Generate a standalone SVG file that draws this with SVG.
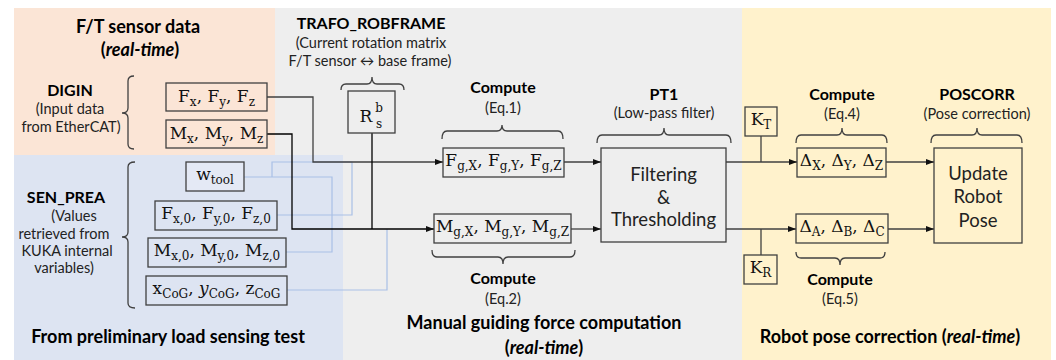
<svg xmlns="http://www.w3.org/2000/svg" width="1056" height="360" viewBox="0 0 1056 360">
<defs>
<style>
.h{font-family:Lato,"Liberation Sans",sans-serif;font-weight:bold;font-size:18px;fill:#000;text-anchor:middle}
.lb{font-family:Lato,"Liberation Sans",sans-serif;font-weight:bold;font-size:16px;fill:#000;text-anchor:middle}
.sm{font-family:Lato,"Liberation Sans",sans-serif;font-size:14.5px;fill:#222;text-anchor:middle}
.big{font-family:Lato,"Liberation Sans",sans-serif;font-size:18.5px;fill:#222;text-anchor:middle}
.m{font-family:"DejaVu Serif","Liberation Serif",serif;font-size:17px;fill:#111;text-anchor:middle}
.s{font-size:12px}
.box{stroke:#404040;stroke-width:1.3}
.ln{fill:none;stroke:#404040;stroke-width:1.3}
.lk{fill:none;stroke:#000;stroke-width:1.3}
.lbl{fill:none;stroke:#A9C0E6;stroke-width:1.2}
.br{fill:none;stroke:#404040;stroke-width:1.3}
</style>
<marker id="ah" viewBox="0 0 8 8" refX="8" refY="4" markerWidth="8" markerHeight="8" markerUnits="userSpaceOnUse" orient="auto"><path d="M0,1 L8,4 L0,7 z" fill="#111"/></marker>
</defs>

<g id="backgrounds">
<rect x="275" y="8" width="467" height="352" fill="#EEEEEE"/>
<rect x="14" y="8" width="261" height="147" fill="#FBE5D6"/>
<rect x="14" y="155" width="329" height="205" fill="#DDE4F2"/>
<rect x="742" y="8" width="309" height="352" fill="#FFF2CC"/>
</g>

<g id="section-labels">
<text class="h" x="138" y="33">F/T sensor data</text>
<text class="h" x="140" y="56">(<tspan font-style="italic">real-time</tspan>)</text>
<text class="lb" x="70" y="96">DIGIN</text>
<text class="sm" x="70" y="114">(Input data</text>
<text class="sm" x="71" y="132">from EtherCAT)</text>
<text class="lb" x="66" y="203">SEN_PREA</text>
<text class="sm" x="74" y="221">(Values</text>
<text class="sm" x="64" y="239">retrieved from</text>
<text class="sm" x="67" y="256">KUKA internal</text>
<text class="sm" x="64" y="273">variables)</text>
<text class="h" x="168" y="343">From preliminary load sensing test</text>
<text class="lb" x="371" y="29">TRAFO_ROBFRAME</text>
<text class="sm" x="371" y="48">(Current rotation matrix</text>
<text class="sm" x="370" y="66">F/T sensor ↔ base frame)</text>
<text class="lb" x="503" y="93">Compute</text>
<text class="sm" x="503" y="113">(Eq.1)</text>
<text class="lb" x="503" y="284">Compute</text>
<text class="sm" x="503" y="304">(Eq.2)</text>
<text class="h" x="544" y="329">Manual guiding force computation</text>
<text class="h" x="544" y="354">(<tspan font-style="italic">real-time</tspan>)</text>
<text class="lb" x="664" y="100">PT1</text>
<text class="sm" x="664" y="118">(Low-pass filter)</text>
<text class="lb" x="842" y="100">Compute</text>
<text class="sm" x="842" y="119">(Eq.4)</text>
<text class="lb" x="840" y="285">Compute</text>
<text class="sm" x="840" y="304">(Eq.5)</text>
<text class="lb" x="977" y="100">POSCORR</text>
<text class="sm" x="977" y="119">(Pose correction)</text>
<text class="h" x="890" y="343">Robot pose correction (<tspan font-style="italic">real-time</tspan>)</text>
</g>

<g id="braces">
<path class="br" d="M134,76 Q128,76 128,81 V108 Q128,113 122,113 Q128,113 128,118 V144 Q128,149 134,149"/>
<path class="br" d="M135,162 Q128,162 128,167 V232 Q128,237 122,237 Q128,237 128,242 V303 Q128,308 135,308"/>
<path class="br" d="M341,90 Q341,84 346,84 H367 Q372,84 372,77 Q372,84 377,84 H399 Q404,84 404,90"/>
<path class="br" d="M442,139 Q442,131 447,131 H497 Q502,131 502,125 Q502,131 507,131 H558 Q563,131 563,139"/>
<path class="br" d="M597,143 Q597,135 602,135 H659 Q664,135 664,128 Q664,135 669,135 H726 Q731,135 731,143"/>
<path class="br" d="M796,143 Q796,135 801,135 H837 Q842,135 842,128 Q842,135 847,135 H882 Q887,135 887,143"/>
<path class="br" d="M931,143 Q931,135 936,135 H972 Q977,135 977,128 Q977,135 982,135 H1017 Q1022,135 1022,143"/>
<path class="br" d="M432,250 Q432,257 437,257 H498 Q503,257 503,264 Q503,257 508,257 H570 Q575,257 575,250"/>
<path class="br" d="M796,252 Q796,258 801,258 H835 Q840,258 840,265 Q840,258 845,258 H880 Q885,258 885,252"/>
</g>

<g id="connectors">
<path class="lbl" d="M244,177 H332 V252 H286"/>
<path class="lbl" d="M272,177 V162 H352 V215 H277"/>
<path class="lbl" d="M287,290 H387 V229"/>
<path class="ln" d="M267,97 H313 V162 H443" marker-end="url(#ah)"/>
<path class="lk" d="M267,134 H292 V229 H434" marker-end="url(#ah)"/>
<path class="lk" d="M372,133 V229"/>
<path class="ln" d="M564,162 H601" marker-end="url(#ah)"/>
<path class="ln" d="M571,229 H601" marker-end="url(#ah)"/>
<path class="ln" d="M726,162 H797" marker-end="url(#ah)"/>
<path class="ln" d="M761,136 V162"/>
<path class="ln" d="M726,229 H796" marker-end="url(#ah)"/>
<path class="ln" d="M761,255 V229"/>
<path class="ln" d="M886,162 H934" marker-end="url(#ah)"/>
<path class="ln" d="M888,229 H934" marker-end="url(#ah)"/>
</g>

<g id="node-fxyz">
<rect class="box" x="166" y="83" width="101" height="28" fill="#FBE5D6"/>
<text class="m" x="216.5" y="102" font-size="17.5">F<tspan class="s" dy="4">x</tspan><tspan dy="-4">, F</tspan><tspan class="s" dy="4">y</tspan><tspan dy="-4">, F</tspan><tspan class="s" dy="4">z</tspan></text>
</g>
<g id="node-mxyz">
<rect class="box" x="166" y="120" width="101" height="28" fill="#FBE5D6"/>
<text class="m" x="216.5" y="139">M<tspan class="s" dy="4">x</tspan><tspan dy="-4">, M</tspan><tspan class="s" dy="4">y</tspan><tspan dy="-4">, M</tspan><tspan class="s" dy="4">z</tspan></text>
</g>
<g id="node-wtool">
<rect class="box" x="186" y="162" width="58" height="29" fill="#E4E9F5"/>
<text class="m" x="215" y="180">w<tspan class="s" dy="4">tool</tspan></text>
</g>
<g id="node-f0">
<rect class="box" x="155" y="201" width="122" height="29" fill="#DDE4F2"/>
<text class="m" x="216" y="219">F<tspan class="s" dy="4">x,0</tspan><tspan dy="-4">, F</tspan><tspan class="s" dy="4">y,0</tspan><tspan dy="-4">, F</tspan><tspan class="s" dy="4">z,0</tspan></text>
</g>
<g id="node-m0">
<rect class="box" x="148" y="238" width="138" height="29" fill="#DDE4F2"/>
<text class="m" x="217" y="256">M<tspan class="s" dy="4">x,0</tspan><tspan dy="-4">, M</tspan><tspan class="s" dy="4">y,0</tspan><tspan dy="-4">, M</tspan><tspan class="s" dy="4">z,0</tspan></text>
</g>
<g id="node-cog">
<rect class="box" x="146" y="276" width="141" height="29" fill="#DDE4F2"/>
<text class="m" x="216.5" y="294">x<tspan class="s" dy="4">CoG</tspan><tspan dy="-4">, </tspan><tspan font-style="italic">y</tspan><tspan class="s" dy="4">CoG</tspan><tspan dy="-4">, z</tspan><tspan class="s" dy="4">CoG</tspan></text>
</g>
<g id="node-rsb">
<rect class="box" x="348" y="91" width="47" height="42" fill="#EEEEEE"/>
<text class="m" x="366" y="122" font-size="18">R</text>
<text class="m s" x="379" y="112">b</text>
<text class="m s" x="379" y="128">s</text>
</g>
<g id="node-fg">
<rect class="box" x="443" y="148" width="121" height="29" fill="#EEEEEE"/>
<text class="m" x="503.5" y="166">F<tspan class="s" dy="4">g,X</tspan><tspan dy="-4">, F</tspan><tspan class="s" dy="4">g,Y</tspan><tspan dy="-4">, F</tspan><tspan class="s" dy="4">g,Z</tspan></text>
</g>
<g id="node-mg">
<rect class="box" x="434" y="214" width="137" height="29" fill="#EEEEEE"/>
<text class="m" x="502.5" y="232">M<tspan class="s" dy="4">g,X</tspan><tspan dy="-4">, M</tspan><tspan class="s" dy="4">g,Y</tspan><tspan dy="-4">, M</tspan><tspan class="s" dy="4">g,Z</tspan></text>
</g>
<g id="node-filter">
<rect class="box" x="601" y="148" width="125" height="94" fill="#EEEEEE"/>
<text class="big" x="663.5" y="181">Filtering</text>
<text class="big" x="663.5" y="204">&amp;</text>
<text class="big" x="663.5" y="226">Thresholding</text>
</g>
<g id="node-kt">
<rect class="box" x="745" y="107" width="32" height="29" fill="#FFF2CC"/>
<text class="m" x="761" y="125">K<tspan class="s" dy="4">T</tspan></text>
</g>
<g id="node-kr">
<rect class="box" x="744" y="255" width="33" height="29" fill="#FFF2CC"/>
<text class="m" x="760.5" y="273">K<tspan class="s" dy="4">R</tspan></text>
</g>
<g id="node-dxyz">
<rect class="box" x="797" y="148" width="89" height="29" fill="#FFF2CC"/>
<text class="m" x="841.5" y="166">Δ<tspan class="s" dy="4">X</tspan><tspan dy="-4">, Δ</tspan><tspan class="s" dy="4">Y</tspan><tspan dy="-4">, Δ</tspan><tspan class="s" dy="4">Z</tspan></text>
</g>
<g id="node-dabc">
<rect class="box" x="796" y="214" width="92" height="29" fill="#FFF2CC"/>
<text class="m" x="842" y="232">Δ<tspan class="s" dy="4">A</tspan><tspan dy="-4">, Δ</tspan><tspan class="s" dy="4">B</tspan><tspan dy="-4">, Δ</tspan><tspan class="s" dy="4">C</tspan></text>
</g>
<g id="node-update">
<rect class="box" x="934" y="148" width="88" height="95" fill="#FFF2CC"/>
<text class="big" x="978" y="180">Update</text>
<text class="big" x="978" y="203">Robot</text>
<text class="big" x="978" y="227">Pose</text>
</g>
</svg>
